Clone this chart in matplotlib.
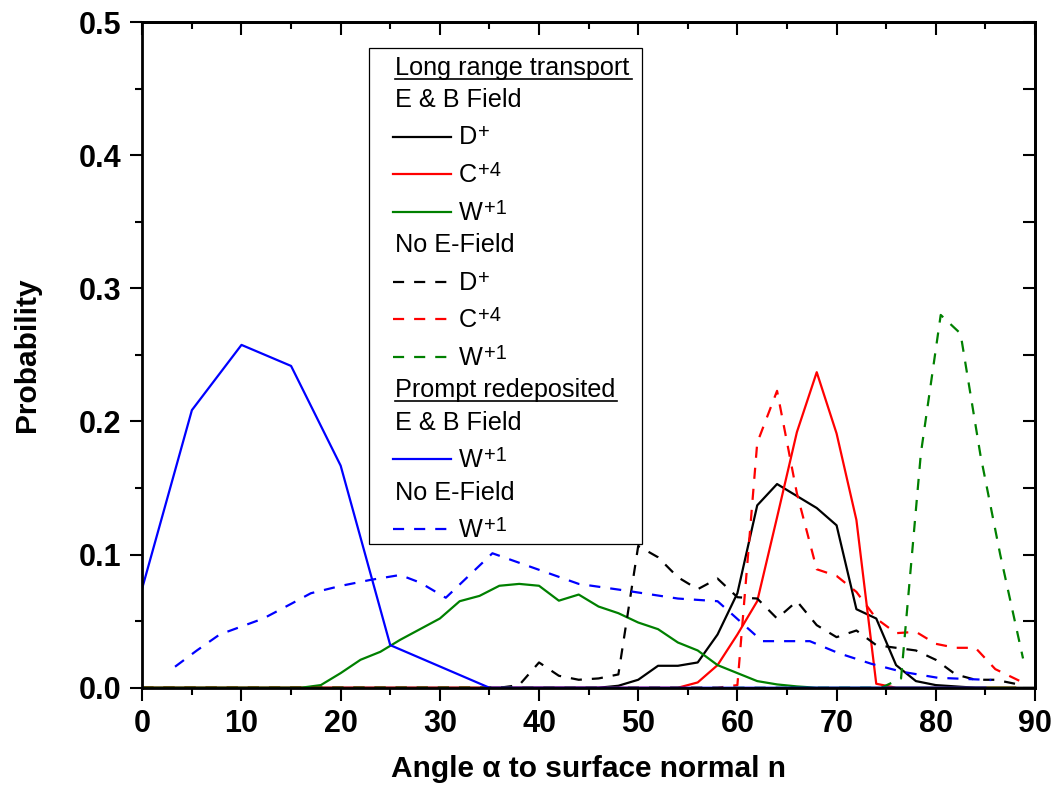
import matplotlib
matplotlib.use("Agg")
import matplotlib.pyplot as plt
from matplotlib.patches import Rectangle
from matplotlib.ticker import MultipleLocator, FormatStrFormatter

plt.rcParams['font.family'] = ['Liberation Sans', 'DejaVu Sans']

# long range transport, E & B field
d_eb_x = [0, 46, 48, 50, 52, 54, 56, 58, 60, 62, 64, 66, 68, 70, 72, 74, 76, 78, 80, 82, 84, 90]
d_eb_y = [0, 0, 0.0015, 0.006, 0.0165, 0.0165, 0.019, 0.040, 0.071, 0.137, 0.153, 0.144, 0.135,
          0.122, 0.059, 0.052, 0.017, 0.005, 0.002, 0.001, 0, 0]
c_eb_x = [0, 54, 56, 58, 60, 62, 64, 66, 68, 70, 72, 74, 76, 88]
c_eb_y = [0, 0, 0.004, 0.017, 0.040, 0.065, 0.128, 0.192, 0.237, 0.191, 0.126, 0.003, 0, 0]
w_eb_x = [0, 16, 18, 20, 22, 24, 26, 28, 30, 32, 34, 36, 38, 40, 42, 44, 46, 48, 50, 52, 54,
          56, 58, 60, 62, 64, 66, 68, 88]
w_eb_y = [0, 0, 0.002, 0.011, 0.021, 0.027, 0.036, 0.044, 0.052, 0.065, 0.069, 0.0766, 0.078,
          0.0766, 0.0654, 0.070, 0.061, 0.056, 0.049, 0.044, 0.034, 0.028, 0.017, 0.011, 0.005,
          0.0025, 0.001, 0, 0]

# long range transport, no E field
d_ne_x = [0, 36, 38, 40, 42, 44, 46, 48, 50, 52, 54, 56, 58, 60, 62, 64, 66, 68, 70, 72, 74,
          76, 78, 80, 82, 84, 86, 88]
d_ne_y = [0, 0, 0.002, 0.019, 0.009, 0.006, 0.007, 0.010, 0.1065, 0.098, 0.083, 0.074, 0.082,
          0.068, 0.067, 0.052, 0.065, 0.047, 0.038, 0.043, 0.032, 0.030, 0.028, 0.021, 0.010,
          0.006, 0.006, 0.003]
c_ne_x = [0, 58, 60, 62, 64, 66, 68, 70, 72, 74, 76, 78, 80, 82, 84, 86, 88.5]
c_ne_y = [0, 0, 0.002, 0.184, 0.223, 0.146, 0.089, 0.084, 0.072, 0.052, 0.041, 0.042, 0.033,
          0.030, 0.030, 0.014, 0.005]
w_ne_x = [0, 74.5, 76.5, 78.5, 80.5, 82.5, 84.5, 86.5, 88.8]
w_ne_y = [0, 0, 0.007, 0.176, 0.280, 0.266, 0.175, 0.100, 0.022]

# prompt redeposited W+1
wp_eb_x = [0, 5, 10, 15, 20, 25, 35, 85]
wp_eb_y = [0.075, 0.2085, 0.2575, 0.2417, 0.1668, 0.032, 0, 0]
wp_ne_x = [3.3, 5.5, 7.8, 10, 12.2, 15, 17, 20, 23, 26, 28, 30.6, 35.3, 44, 48.7, 54, 58,
           62.5, 67.3, 70.2, 73.5, 76.6, 80.2, 85.6]
wp_ne_y = [0.0158, 0.028, 0.040, 0.046, 0.052, 0.063, 0.071, 0.0765, 0.081, 0.0847, 0.079,
           0.0676, 0.101, 0.078, 0.073, 0.067, 0.065, 0.035, 0.035, 0.026, 0.018, 0.012,
           0.0075, 0.0058]

BLACK, RED, GREEN, BLUE = 'black', '#ff0000', '#008000', '#0000ff'
LW = 1.6
DASH = (5, 4.5)

fig = plt.figure(figsize=(10.58, 7.95), dpi=100)
ax = fig.add_axes([0.1345, 0.1349, 0.8437, 0.8374])

ax.plot(d_eb_x, d_eb_y, color=BLACK, lw=LW)
ax.plot(c_eb_x, c_eb_y, color=RED, lw=LW)
ax.plot(w_eb_x, w_eb_y, color=GREEN, lw=LW)
ax.plot(d_ne_x, d_ne_y, color=BLACK, lw=LW, dashes=DASH)
ax.plot(c_ne_x, c_ne_y, color=RED, lw=LW, dashes=DASH)
ax.plot(w_ne_x, w_ne_y, color=GREEN, lw=LW, dashes=DASH)
ax.plot(wp_eb_x, wp_eb_y, color=BLUE, lw=LW)
ax.plot(wp_ne_x, wp_ne_y, color=BLUE, lw=LW, dashes=DASH)

ax.set_xlim(0, 90)
ax.set_ylim(0, 0.5)
ax.xaxis.set_major_locator(MultipleLocator(10))
ax.xaxis.set_minor_locator(MultipleLocator(5))
ax.yaxis.set_major_locator(MultipleLocator(0.1))
ax.yaxis.set_minor_locator(MultipleLocator(0.05))
ax.yaxis.set_major_formatter(FormatStrFormatter('%.1f'))
ax.tick_params(which='major', direction='out', length=9, width=1.5, labelsize=22, pad=6)
ax.tick_params(which='minor', direction='out', length=5, width=1.5)
for lab in ax.get_xticklabels() + ax.get_yticklabels():
    lab.set_fontweight('bold')
for sp in ax.spines.values():
    sp.set_linewidth(2)

top = ax.secondary_xaxis('top')
top.xaxis.set_major_locator(MultipleLocator(10))
top.xaxis.set_minor_locator(MultipleLocator(5))
top.tick_params(which='major', direction='in', length=9, width=1.5, labeltop=False)
top.tick_params(which='minor', direction='in', length=5, width=1.5)
top.spines['top'].set_linewidth(2)
right = ax.secondary_yaxis('right')
right.yaxis.set_major_locator(MultipleLocator(0.05))
right.tick_params(which='major', direction='in', length=9, width=1.5, labelright=False)
right.spines['right'].set_linewidth(2)

ax.set_xlabel('Angle α to surface normal n', fontsize=21.5, fontweight='bold', labelpad=12)
ax.set_ylabel('Probability', fontsize=21.5, fontweight='bold', labelpad=27)

# hand-built legend, positions in reference pixels
X0, X1, Y0, Y1 = 142.3, 1035.0, 687.7, 22.0


def axp(px, py):
    return (px - X0) / (X1 - X0), (Y0 - py) / (Y0 - Y1)


bx0, by0 = axp(369.3, 544)
bx1, by1 = axp(641.7, 48.3)
ax.add_patch(Rectangle((bx0, by0), bx1 - bx0, by1 - by0, transform=ax.transAxes,
                       facecolor='white', edgecolor='black', lw=0.9, zorder=5))

FS = 18.2
SFS = 14.5
headers = [('Long range transport', 75, 632), ('E & B Field', 106.7, 0),
           ('No E-Field', 252, 0), ('Prompt redeposited', 397, 617),
           ('E & B Field', 430, 0), ('No E-Field', 499.5, 0)]
for txt, yb, xe in headers:
    tx, ty = axp(395, yb)
    ax.text(tx, ty, txt, transform=ax.transAxes, fontsize=FS, va='baseline', ha='left', zorder=6)
    if xe:
        ux0, uy = axp(395, yb + 4)
        ux1, _ = axp(xe, yb + 4)
        ax.plot([ux0, ux1], [uy, uy], transform=ax.transAxes, color='black', lw=1.2, zorder=6,
                clip_on=False)

entries = [(BLACK, None, 'D', '+', 136.7, 144), (RED, None, 'C', '+4', 174, 181.7),
           (GREEN, None, 'W', '+1', 212.3, 220), (BLACK, DASH, 'D', '+', 281.7, 290),
           (RED, DASH, 'C', '+4', 319.3, 327.3), (GREEN, DASH, 'W', '+1', 356.7, 365),
           (BLUE, None, 'W', '+1', 459.3, 467.3), (BLUE, DASH, 'W', '+1', 529.3, 537.3)]
for col, ds, base, sup, yl, yb in entries:
    hx0, hy = axp(393.5, yl)
    hx1, _ = axp(451.5, yl)
    kw = {'dashes': ds} if ds else {}
    ax.plot([hx0, hx1], [hy, hy], transform=ax.transAxes, color=col, lw=LW, zorder=6,
            clip_on=False, **kw)
    tx, ty = axp(459, yb)
    ax.text(tx, ty, base, transform=ax.transAxes, fontsize=FS, va='baseline', ha='left', zorder=6)
    sx, sy = axp(484 if base == 'W' else 478.5, yb - 6)
    ax.text(sx, sy, sup, transform=ax.transAxes, fontsize=SFS, va='baseline', ha='left', zorder=6)

fig.savefig('out.png', dpi=100)
